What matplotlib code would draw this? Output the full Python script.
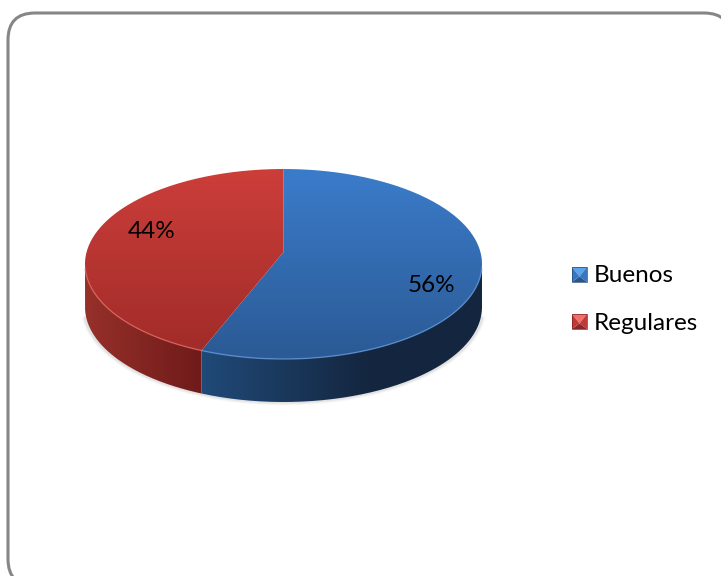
"""Pie chart, 3D look: Buenos / Regulares."""
import numpy as np
import matplotlib
matplotlib.use("Agg")
import matplotlib.pyplot as plt
from matplotlib.patches import FancyBboxPatch, PathPatch, Polygon
from matplotlib.path import Path

categories = ["Buenos", "Regulares"]
values = [56, 44]
labels = ["56%", "44%"]

W, H = 721, 576
CX, CY, RX, RY = 283.5, 264, 198.5, 95   # top ellipse, pixels
DEPTH = 43
K = 0.125      # perspective: pushes the pie centre up the ellipse
FONT = ["Lato", "DejaVu Sans"]

BLUE_TOP = ("#3b7cca", "#2b5a95")
RED_TOP = ("#cc3e3a", "#9f2b28")
BLUE_SIDE = ("#204a78", "#14263f")
RED_SIDE = ("#96302a", "#6f1b1a")


def project(frac):
    # frac = clockwise share of the turn from 12 o'clock
    a = 2 * np.pi * np.asarray(frac)
    X, Y = np.sin(a), np.cos(a)
    d = 1 + K * Y
    return CX + RX * X * np.sqrt(1 - K ** 2) / d, CY - RY * (Y + K) / d


def gradient(ax, path, c0, c1, horizontal, extent, stop=1.0):
    # colour runs c0 -> c1 over the first `stop` of the extent, then stays flat
    a = np.array(matplotlib.colors.to_rgb(c0))
    b = np.array(matplotlib.colors.to_rgb(c1))
    t = np.clip(np.linspace(0, 1, 256) / stop, 0, 1)
    img = a + (b - a) * t[:, None]
    img = img[None, :, :] if horizontal else img[:, None, :]
    im = ax.imshow(img, extent=extent, aspect="auto", zorder=3, interpolation="bilinear")
    im.set_clip_path(PathPatch(path, transform=ax.transData))


fig = plt.figure(figsize=(W / 100, H / 100), dpi=100)
ax = fig.add_axes([0, 0, 1, 1])
ax.set_xlim(0, W)
ax.set_ylim(H, 0)
ax.axis("off")

# outer frame, runs off the bottom and right of the picture
ax.add_patch(FancyBboxPatch((8, 13), 723, 573, boxstyle="round,pad=0,rounding_size=27",
                            fc="white", ec="#868686", lw=2.2, zorder=1))

# soft shadow under the side wall
t = np.linspace(0.12, np.pi - 0.12, 100)
sx = CX + (RX + 1) * np.cos(t)
sy = CY + DEPTH + RY * np.sin(t)
for lw, al in [(5, 0.04), (3.5, 0.05), (2.2, 0.08)]:
    ax.plot(sx, sy, color="#555555", lw=lw, alpha=al, zorder=2, solid_capstyle="round")

fracs = np.cumsum([0] + values) / sum(values)
end = fracs[1]
bx, by = project(end)
widest = np.arccos(-K) / (2 * np.pi)   # where the ellipse is widest

# side walls: blue from the right edge to the slice boundary, red on to the left edge
tt = np.linspace(widest, end, 160)
x, y = project(tt)
wall = np.r_[np.c_[x, y], np.c_[x[::-1], y[::-1] + DEPTH]]
gradient(ax, Path(wall), BLUE_SIDE[0], BLUE_SIDE[1], True, (bx, CX + RX, H, 0), stop=0.6)
tt = np.linspace(end, 1 - widest, 160)
x, y = project(tt)
wall = np.r_[np.c_[x, y], np.c_[x[::-1], y[::-1] + DEPTH]]
gradient(ax, Path(wall), RED_SIDE[1], RED_SIDE[0], True, (bx, CX - RX, H, 0))

# top faces
apex = (CX, CY - RY * K)
for i, (tops, edge) in enumerate([(BLUE_TOP, "#5b93d6"), (RED_TOP, "#e0635c")]):
    tt = np.linspace(fracs[i], fracs[i + 1], 200)
    x, y = project(tt)
    poly = np.r_[[apex], np.c_[x, y], [apex]]
    gradient(ax, Path(poly), tops[0], tops[1], False, (0, W, CY + RY, CY - RY))
    # light rim only on the near side of the disc
    low = y > CY + 5
    ax.plot(x[low], y[low], color=edge, lw=1.0, alpha=0.8, zorder=4)

ax.set_xlim(0, W)
ax.set_ylim(H, 0)

# percentage labels
ax.text(431.5, 286, labels[0], ha="center", va="center", fontsize=17.5, family=FONT, color="black", zorder=5)
ax.text(151.5, 232, labels[1], ha="center", va="center", fontsize=17.5, family=FONT, color="black", zorder=5)

# legend with bevelled keys
key_cols = [("#5aa2ee", "#3a76c0", "#2b568c", "#234a7c"), ("#f0706c", "#c03a38", "#8a2826", "#7f2322")]
for name, col, y in zip(categories, key_cols, [275, 322]):
    x0, x1, y0, y1 = 572, 587, y - 8, y + 7
    mx, my = (x0 + x1) / 2, (y0 + y1) / 2 + 2
    corners = [(x0, y0), (x1, y0), (x1, y1), (x0, y1)]
    shades = [col[0], col[1], col[2], col[1]]
    for j in range(4):
        ax.add_patch(Polygon([corners[j], corners[(j + 1) % 4], (mx, my)], fc=shades[j], ec="none", zorder=5))
    ax.add_patch(Polygon(corners, fc="none", ec=col[3], lw=0.5, zorder=6))
    ax.text(594, y + 1, name, ha="left", va="center", fontsize=17.5, family=FONT, color="black", zorder=5)

plt.savefig("out.png", dpi=100)
plt.close()
